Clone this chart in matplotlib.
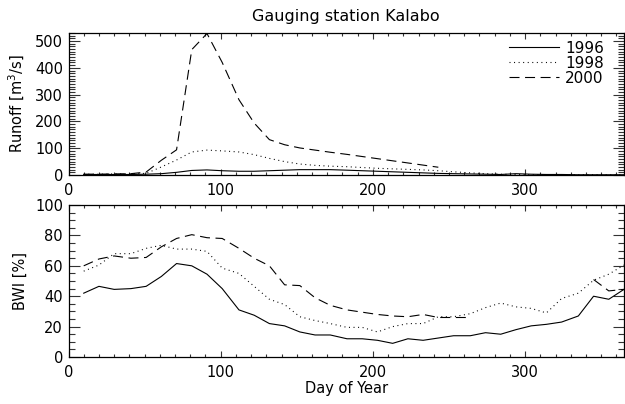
import numpy as np
import matplotlib
matplotlib.use("Agg")
import matplotlib.pyplot as plt
from matplotlib.ticker import MultipleLocator

nan = np.nan

# dekadal time steps (day of year)
days = [10, 20, 30, 41, 51, 61, 71, 81, 91, 101, 112, 122, 132, 142, 152, 162,
        172, 183, 193, 203, 213, 223, 233, 243, 253, 264, 274, 284, 294, 304,
        314, 324, 335, 345, 355, 365]

years = ["1996", "1998", "2000"]

# runoff [m3/s]
runoff_1996 = [2, 2, 2, 2, 3, 5, 10, 17, 19, 16, 14, 14, 16, 18, 20, 20,
               20, 18, 16, 14, 12, 10, 8, 6, 5, 4, 3, 2, 5, 3,
               2, 2, 1, 1, 1, 1]
runoff_1998 = [3, 3, 4, 5, 6, 30, 56, 86, 93, 90, 86, 76, 62, 50, 41, 36,
               33, 31, 28, 25, 23, 21, 19, 16, 12, 8, 5, 3, 2, 1,
               1, 1, 1, 1, 1, 1]
runoff_2000 = [3, 3, 4, 5, 11, 55, 94, 468, 528, 420, 281, 194, 132, 113, 101, 93,
               85, 77, 69, 61, 53, 45, 37, 29, nan, nan, nan, nan, nan, nan,
               nan, nan, nan, nan, nan, nan]

# BWI [%]
bwi_1996 = [42, 46.5, 44.5, 45, 46.5, 53, 61.5, 60, 54.5, 45, 31, 27.5, 22, 20.5, 16.5, 14.5,
            14.5, 12, 12, 11, 9, 12, 11, 12.5, 14, 14, 16, 15, 18, 20.5,
            21.5, 23, 27, 40, 38, 44.5]
bwi_1998 = [56.5, 60.5, 68, 68, 71.5, 73.5, 71, 71, 69.5, 58.5, 55, 46.5, 38, 34.5, 26.5, 24,
            22, 19.5, 19.5, 16.5, 20, 22, 22, 26.5, 26.5, 28.5, 32.5, 35.5, 33, 32,
            29, 38.5, 42, 50.5, 54.5, 60.5]
bwi_2000 = [60, 64.5, 66.5, 65, 65.5, 72.5, 78, 80.5, 78.5, 78, 71.5, 65, 60, 47.5, 47, 39,
            34, 31, 29.5, 28, 27, 26.5, 28, 26, 26, 26, nan, nan, nan, nan,
            nan, nan, nan, 51, 43.5, 44.5]

styles = {"1996": dict(ls="-"),
          "1998": dict(dashes=(0.9, 3.2)),
          "2000": dict(dashes=(9, 5))}

plt.rcParams["font.family"] = "DejaVu Sans"
FS = 10.5


def style_axes(ax, ymajor, yminor):
    ax.set_xlim(0, 365)
    ax.xaxis.set_major_locator(MultipleLocator(100))
    ax.xaxis.set_minor_locator(MultipleLocator(10))
    ax.yaxis.set_major_locator(MultipleLocator(ymajor))
    ax.yaxis.set_minor_locator(MultipleLocator(yminor))
    ax.tick_params(which="both", direction="in", top=True, right=True,
                   labelsize=FS, width=0.8, color="#333333")
    ax.tick_params(axis="x", which="major", length=4, pad=6)
    ax.tick_params(axis="x", which="minor", length=2)
    ax.tick_params(axis="y", which="major", length=8, pad=4)
    ax.tick_params(axis="y", which="minor", length=4)
    for s in ax.spines.values():
        s.set_linewidth(0.9)


fig = plt.figure(figsize=(6.25, 4.04), dpi=100)
ax1 = fig.add_axes([0.1096, 0.5668, 0.8888, 0.3515])
ax2 = fig.add_axes([0.1096, 0.1163, 0.8888, 0.3762])

for yr, r in zip(years, [runoff_1996, runoff_1998, runoff_2000]):
    ax1.plot(days, r, color="black", lw=0.8, label=yr, **styles[yr])
for yr, b in zip(years, [bwi_1996, bwi_1998, bwi_2000]):
    ax2.plot(days, b, color="black", lw=0.8, **styles[yr])

style_axes(ax1, 100, 10)
ax1.set_ylim(0, 530)
ax1.set_title("Gauging station Kalabo", fontsize=FS + 1, pad=9)
ax1.set_ylabel("Runoff [m$^3$/s]", fontsize=FS)
ax1.yaxis.set_label_coords(-0.074, 0.5)
ax1.legend(loc="upper right", bbox_to_anchor=(0.978, 1.0), frameon=False,
           fontsize=FS + 0.5, handlelength=3.3, handletextpad=0.4,
           labelspacing=0.0, borderaxespad=0.1)

style_axes(ax2, 20, 5)
ax2.set_ylim(0, 100)
ax2.set_ylabel("BWI [%]", fontsize=FS)
ax2.yaxis.set_label_coords(-0.074, 0.5)
ax2.set_xlabel("Day of Year", fontsize=FS)
ax2.xaxis.set_label_coords(0.5, -0.155)

fig.savefig("out.png", dpi=100)
